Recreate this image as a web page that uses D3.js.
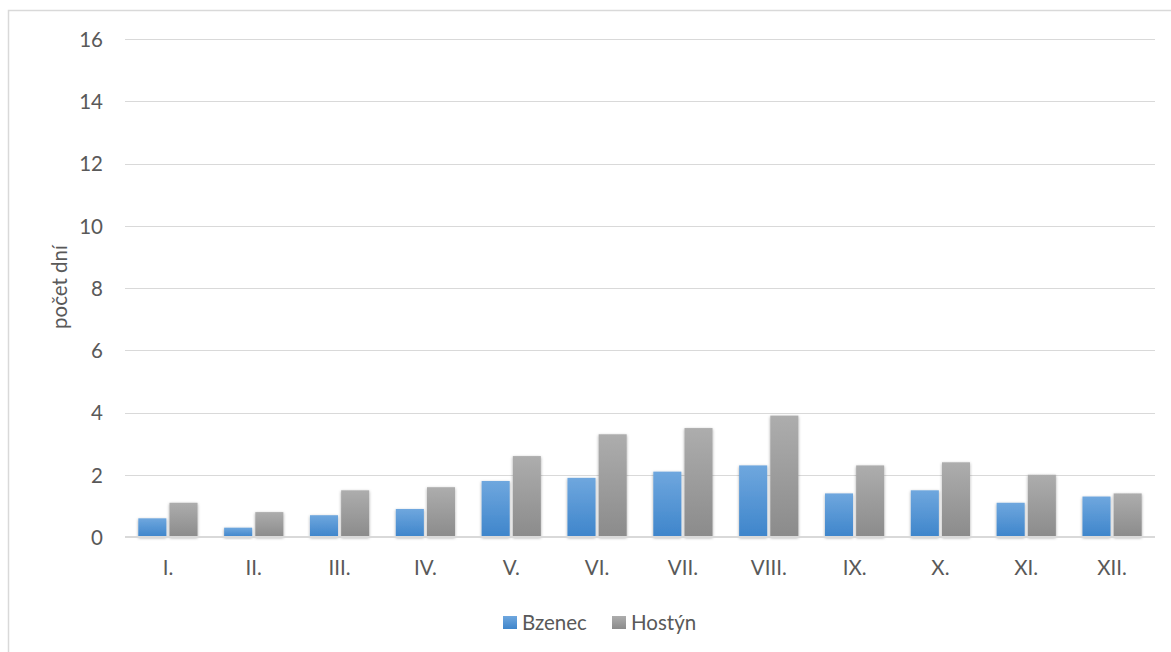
<!DOCTYPE html>
<html>
<head>
<meta charset="utf-8">
<script src="https://cdn.jsdelivr.net/npm/d3@7"></script>
<style>
  html, body { margin: 0; padding: 0; background: #fff; }
  svg { display: block; }
  text { font-family: Lato, "Open Sans", sans-serif; fill: #595959; }
</style>
</head>
<body>
<svg id="chart" width="1171" height="652"></svg>
<script>
// Months (Roman numerals)
const months = ["I.", "II.", "III.", "IV.", "V.", "VI.", "VII.", "VIII.", "IX.", "X.", "XI.", "XII."];
// Average number of days per month at each station
const bzenec = [0.6, 0.3, 0.7, 0.9, 1.8, 1.9, 2.1, 2.3, 1.4, 1.5, 1.1, 1.3];
const hostyn = [1.1, 0.8, 1.5, 1.6, 2.6, 3.3, 3.5, 3.9, 2.3, 2.4, 2.0, 1.4];
const seriesNames = ["Bzenec", "Hostýn"];
const yTicks = [0, 2, 4, 6, 8, 10, 12, 14, 16];

const svg = d3.select("#chart");
const W = 1171, H = 652;
const m = { left: 125, right: 1155, top: 39, bottom: 537 };
const labelSize = "20.5px";

// Chart frame
svg.append("rect")
  .attr("x", 8.5).attr("y", 10.5)
  .attr("width", W + 20).attr("height", H + 20)
  .attr("fill", "#fff").attr("stroke", "#d9d9d9").attr("stroke-width", 1.5);

const defs = svg.append("defs");
const gradBlue = defs.append("linearGradient").attr("id", "gBlue")
  .attr("x1", 0).attr("y1", 0).attr("x2", 0).attr("y2", 1);
gradBlue.append("stop").attr("offset", "0%").attr("stop-color", "#6fa7de");
gradBlue.append("stop").attr("offset", "100%").attr("stop-color", "#3e85cb");
const gradGray = defs.append("linearGradient").attr("id", "gGray")
  .attr("x1", 0).attr("y1", 0).attr("x2", 0).attr("y2", 1);
gradGray.append("stop").attr("offset", "0%").attr("stop-color", "#adadad");
gradGray.append("stop").attr("offset", "100%").attr("stop-color", "#8b8b8b");
const shadow = defs.append("filter").attr("id", "shadow")
  .attr("x", "-30%").attr("y", "-30%").attr("width", "160%").attr("height", "160%");
shadow.append("feDropShadow").attr("dx", 0).attr("dy", 1)
  .attr("stdDeviation", 1.8).attr("flood-color", "#000").attr("flood-opacity", 0.35);

const x = d3.scaleBand().domain(months).range([m.left, m.right]).paddingInner(0).paddingOuter(0);
const xs = d3.scaleBand().domain(seriesNames).range([13.3, x.bandwidth() - 13.3]).paddingInner(0.1);
const y = d3.scaleLinear().domain([0, 16]).range([m.bottom, m.top]);

// Horizontal gridlines
svg.append("g")
  .selectAll("line").data(yTicks.filter(d => d > 0)).join("line")
  .attr("x1", m.left).attr("x2", m.right)
  .attr("y1", d => Math.round(y(d)) + 0.5).attr("y2", d => Math.round(y(d)) + 0.5)
  .attr("stroke", "#d9d9d9").attr("stroke-width", 1.2);

// Y axis labels
const yAxis = d3.axisLeft(y).tickValues(yTicks).tickSize(0).tickPadding(0);
const gy = svg.append("g").attr("transform", `translate(103,0)`).call(yAxis);
gy.select(".domain").remove();
gy.selectAll("text").style("font-size", labelSize).attr("fill", "#595959").attr("dy", "0.36em");

// Bars
const data = months.map((mo, i) => ({ month: mo, values: [bzenec[i], hostyn[i]] }));
const fills = ["url(#gBlue)", "url(#gGray)"];
const groups = svg.append("g").selectAll("g").data(data).join("g")
  .attr("transform", d => `translate(${x(d.month)},0)`);
groups.selectAll("rect")
  .data(d => d.values.map((v, k) => ({ v, k })))
  .join("rect")
  .attr("x", d => xs(seriesNames[d.k]))
  .attr("width", xs.bandwidth())
  .attr("y", d => y(d.v))
  .attr("height", d => y(0) - y(d.v))
  .attr("fill", d => fills[d.k])
  .attr("filter", "url(#shadow)");

// Category axis
svg.append("line")
  .attr("x1", m.left).attr("x2", m.right)
  .attr("y1", y(0)).attr("y2", y(0))
  .attr("stroke", "#d9d9d9").attr("stroke-width", 2.2);
const xAxis = d3.axisBottom(x).tickSize(0).tickPadding(0);
const gx = svg.append("g").attr("transform", `translate(0,${y(0) + 31})`).call(xAxis);
gx.select(".domain").remove();
gx.selectAll("text").style("font-size", labelSize).attr("fill", "#595959").attr("dy", "0.36em");

// Y axis title
svg.append("text")
  .attr("transform", `translate(60,287) rotate(-90)`)
  .attr("text-anchor", "middle").attr("dy", "0.35em")
  .style("font-size", labelSize)
  .text("počet dní");

// Legend
const legend = svg.append("g");
const legendItems = [
  { name: seriesNames[0], fill: fills[0], x: 503 },
  { name: seriesNames[1], fill: fills[1], x: 612 }
];
legendItems.forEach(it => {
  legend.append("rect").attr("x", it.x).attr("y", 616).attr("width", 14).attr("height", 13)
    .attr("fill", it.fill);
  legend.append("text").attr("x", it.x + 19).attr("y", 629.5)
    .style("font-size", labelSize).text(it.name);
});
</script>
</body>
</html>
